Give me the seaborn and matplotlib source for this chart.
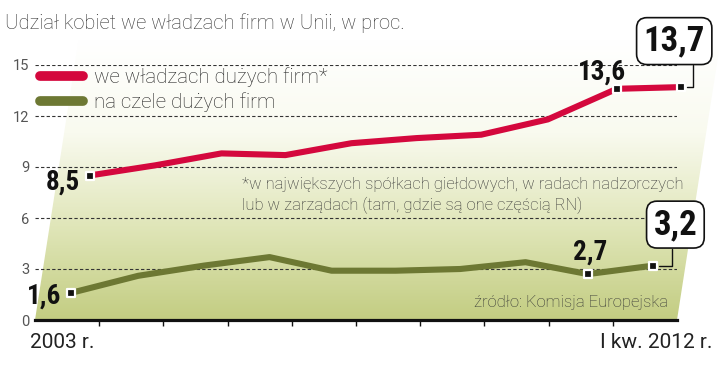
import math
import matplotlib
matplotlib.use("Agg")
import numpy as np
import pandas as pd
import seaborn as sns
import matplotlib.pyplot as plt
from matplotlib.transforms import Affine2D
from matplotlib.colors import LinearSegmentedColormap

# dane
okresy = ["2003", "2004", "2005", "2006", "2007", "2008", "2009", "2010", "2011", "I kw. 2012"]
we_wladzach = [8.5, 9.1, 9.8, 9.7, 10.4, 10.7, 10.9, 11.8, 13.6, 13.7]
na_czele = [1.6, 2.6, 3.2, 3.7, 2.9, 2.9, 3.0, 3.4, 2.7, 3.2]
serie = ["we władzach dużych firm*", "na czele dużych firm"]
kolory = ["#d4083d", "#6d7833"]
y_ticks = [0, 3, 6, 9, 12, 15]
podpisy_x = ["2003 r.", "I kw. 2012 r."]

df = pd.DataFrame({
    "i": list(range(len(okresy))) * 2,
    "wartosc": we_wladzach + na_czele,
    "seria": [serie[0]] * len(okresy) + [serie[1]] * len(okresy),
})

sns.set_theme(style="white")
plt.rcParams["font.family"] = ["Roboto", "DejaVu Sans"]
narrow = ["Roboto Condensed", "Roboto", "DejaVu Sans"]

fig = plt.figure(figsize=(7.2, 3.74), dpi=100)
ax = fig.add_axes([35 / 720, 54 / 374, 642 / 720, 255 / 374])
ax.set_xlim(-0.5, 9.5)
ax.set_ylim(0, 15)
ax.patch.set_visible(False)

# pochylenie calego wykresu (w ukladzie danych)
shear = Affine2D().skew(math.atan(0.0413), 0) + ax.transData

# tlo z gradientem
cmap = LinearSegmentedColormap.from_list("tlo", ["#c3cd82", "#e0e6b9", "#f9faef", "#ffffff"])
grad = np.linspace(0, 1, 200).reshape(-1, 1)
im = ax.imshow(grad, extent=(-0.5, 9.5, 0, 16.5), origin="lower", aspect="auto",
               cmap=cmap, transform=shear, zorder=0, interpolation="bilinear")
im.set_clip_on(False)

sns.lineplot(data=df, x="i", y="wartosc", hue="seria", hue_order=serie,
             palette=kolory, linewidth=4.4, ax=ax, legend=True, zorder=3)
for ln in ax.lines:
    ln.set_transform(shear)
    ln.set_clip_on(False)
    ln.set_solid_capstyle("butt")

# znaczniki
idx = [0, 8, 9]
for vals in (we_wladzach, na_czele):
    sns.scatterplot(x=idx, y=[vals[k] for k in idx], marker="s", s=34, color="#111111",
                    edgecolor="white", linewidth=1.6, ax=ax, zorder=5, legend=False)
for coll in ax.collections:
    coll.set_offset_transform(shear)
    coll.set_clip_on(False)

# siatka i osie
ax.set_yticks(y_ticks)
ax.grid(axis="y", linestyle=(0, (3, 2)), color="#333333", linewidth=0.8)
ax.grid(axis="x", visible=False)
ax.yaxis.get_gridlines()[0].set_visible(False)
for s in ["left", "top", "right"]:
    ax.spines[s].set_visible(False)
ax.spines["bottom"].set_linewidth(2.3)
ax.spines["bottom"].set_color("#111111")
ax.spines["bottom"].set_zorder(4)
ax.set_xticks([k + 0.5 for k in range(len(okresy) - 1)])
ax.set_xticklabels([])
ax.tick_params(axis="x", length=4, width=1, color="#111111", direction="out", bottom=True)
ax.tick_params(axis="y", length=0, pad=4, labelsize=10.5, labelcolor="#555555")
ax.set_xlabel("")
ax.set_ylabel("")

# legenda
handles, labels = ax.get_legend_handles_labels()
leg = ax.legend(handles, labels, loc="center left", bbox_to_anchor=(40 / 720, 1 - 90 / 374),
                bbox_transform=fig.transFigure, frameon=False, fontsize=14.8,
                handlelength=2.1, handletextpad=0.55, labelspacing=0.25, borderpad=0,
                borderaxespad=0)
for h in leg.get_lines():
    h.set_linewidth(7)
    h.set_solid_capstyle("round")
for t in leg.get_texts():
    t.set_color("#222222")
    t.set_fontweight("light")

# etykiety wartosci
def etykieta(i, v, txt, dx, dy, ha):
    ax.annotate(txt, xy=(i, v), xycoords=shear, xytext=(dx, dy), textcoords="offset pixels",
                ha=ha, va="center", fontsize=19.5, fontweight="bold", family=narrow,
                color="#111111", annotation_clip=False, zorder=6)

etykieta(0, we_wladzach[0], "8,5", -10, -7, "right")
etykieta(0, na_czele[0], "1,6", -10, -3, "right")
etykieta(8, we_wladzach[8], "13,6", -15, 17, "center")
etykieta(8, na_czele[8], "2,7", 2, 22, "center")

def ramka(i, v, txt, dx, dy, rel):
    ax.annotate(txt, xy=(i, v), xycoords=shear, xytext=(dx, dy), textcoords="offset pixels",
                ha="center", va="center", fontsize=25, fontweight="bold", family=narrow,
                color="#111111", annotation_clip=False, zorder=6,
                bbox=dict(boxstyle="round,pad=0.2,rounding_size=0.3", fc="white", ec="#111111", lw=1.2),
                arrowprops=dict(arrowstyle="-", color="#111111", lw=1,
                                connectionstyle="angle,angleA=90,angleB=0,rad=0",
                                relpos=(rel, 0), shrinkA=0, shrinkB=4))

ramka(9, we_wladzach[9], "13,7", -7, 46, 0.8)
ramka(9, na_czele[9], "3,2", 22, 41, 0.43)

# teksty
fig.text(5 / 720, 1 - 23 / 374, "Udział kobiet we władzach firm w Unii, w proc.",
         fontsize=14.5, fontweight="light", color="#333333", va="center", ha="left")
fig.text(242 / 720, 1 - 184 / 374, "*w największych spółkach giełdowych, w radach nadzorczych",
         fontsize=12, fontweight="light", color="#333333", va="center", ha="left")
fig.text(242 / 720, 1 - 205 / 374, "lub w zarządach (tam, gdzie są one częścią RN)",
         fontsize=12, fontweight="light", color="#333333", va="center", ha="left")
fig.text(668 / 720, 1 - 303 / 374, "źródło: Komisja Europejska",
         fontsize=12, fontweight="light", color="#333333", va="center", ha="right")
fig.text(62 / 720, 1 - 343 / 374, podpisy_x[0], fontsize=15, color="#222222",
         va="center", ha="center")
fig.text(712 / 720, 1 - 343 / 374, podpisy_x[1], fontsize=15, color="#222222",
         va="center", ha="right")

fig.savefig("out.png", dpi=100)
